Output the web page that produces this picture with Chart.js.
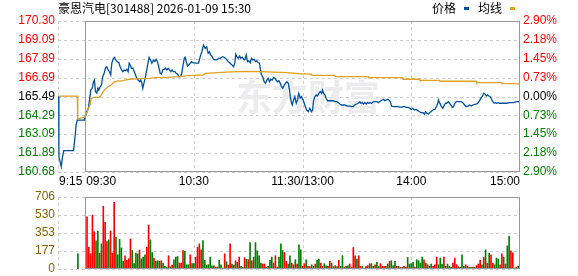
<!DOCTYPE html>
<html lang="zh-CN">
<head>
<meta charset="UTF-8">
<title>豪恩汽电 分时</title>
<script src="https://cdn.jsdelivr.net/npm/chart.js"></script>
<style>
  body { margin: 0; background: #fff; overflow: hidden; }
  #wrap { position: relative; width: 578px; height: 276px; font-family: "Noto Sans CJK SC", sans-serif; color: #000; }
  #title { position: absolute; left: 58px; top: 0; font-size: 12px; line-height: 16px; white-space: nowrap; }
  #legend { position: absolute; left: 432px; top: 0; font-size: 12px; line-height: 16px; white-space: nowrap; }
  .sw { display: inline-block; width: 5px; height: 3px; margin: 0 9px 3px 8px; vertical-align: middle; }
  #price { position: absolute; left: 0; top: 0; }
  #vol { position: absolute; left: 0; top: 183px; }
</style>
</head>
<body>
<div id="wrap">
  <canvas id="price" width="578" height="190"></canvas>
  <canvas id="vol" width="578" height="100"></canvas>
  <div id="title">豪恩汽电[301488] 2026-01-09 15:30</div>
  <div id="legend">价格<span class="sw" style="background:#0050a0"></span>均线<span class="sw" style="background:#e0a020"></span></div>
</div>
<script>
// minutes counted from 9:15 (9:30 = 15, 11:30/13:00 = 135, 15:00 = 255)
const timeMins = [0, 15, 75, 135, 195, 255];
const timeLabels = ['9:15', '09:30', '10:30', '11:30/13:00', '14:00', '15:00'];

const priceLabels = ['170.30', '169.09', '167.89', '166.69', '165.49', '164.29', '163.09', '161.89', '160.68'];
const pctLabels = ['2.90%', '2.18%', '1.45%', '0.73%', '0.00%', '0.73%', '1.45%', '2.18%', '2.90%'];
const volLabels = ['706', '530', '353', '177', '0'];

const priceMin = [0.4, 0.5, 1.8, 2.5, 3.2, 8.6, 9.5, 10.0, 10.6, 14.6, 15.0,
  15.9, 16.8, 17.4, 18.1, 18.9, 19.6, 20.1, 20.7, 21.4, 22.0, 22.5, 23.3, 24.0, 24.7, 25.5, 26.2, 26.9, 27.7, 28.4, 29.1,
  29.7, 30.6, 31.2, 31.9, 32.8, 33.6, 34.3, 35.1, 35.8, 36.5, 37.3, 38.0, 38.7, 39.3, 39.9, 40.6, 41.3, 42.1, 42.8, 43.5,
  44.3, 45.0, 45.7, 46.3, 46.8, 47.4, 48.1, 49.0, 49.8, 50.3, 51.1, 51.8, 52.7, 53.4, 54.2, 54.9, 55.6, 56.4, 57.1, 57.8,
  58.6, 59.3, 60.1, 60.8, 61.5, 62.3, 63.0, 63.8, 64.5, 65.2, 66.0, 66.7, 67.5, 68.2, 68.9, 69.7, 70.2, 70.8, 71.5, 72.2,
  73.0, 73.7, 74.4, 76.3, 77.6, 78.5, 79.4, 80.3, 81.3, 82.1, 82.9, 83.6, 84.3, 85.1, 85.8, 86.6, 87.3, 88.0, 88.8, 89.5,
  90.3, 91.0, 91.7, 92.5, 93.2, 94.0, 94.7, 95.4, 96.2, 96.9, 97.6, 98.1, 98.7, 99.5, 100.2, 100.9, 101.7, 102.4, 103.1, 103.9,
  104.6, 105.3, 106.1, 106.8, 107.5, 108.3, 109.0, 109.7, 110.5, 111.2, 111.8, 112.3, 113.0, 113.8, 114.5, 115.3, 116.0, 116.7, 117.5, 118.2,
  119.0, 119.7, 120.4, 121.2, 121.9, 122.7, 123.4, 124.1, 124.9, 125.6, 126.3, 127.1, 127.8, 128.2, 128.7, 129.3, 130.0, 130.7, 131.5, 132.2,
  132.9, 133.7, 134.4, 135.3, 136.2, 137.2, 138.1, 139.0, 139.9, 140.5, 141.0, 141.8, 142.5, 143.2, 144.0, 144.7, 145.5, 146.0, 146.6, 147.3,
  148.0, 148.8, 150.0, 151.9, 152.8, 153.7, 154.7, 155.6, 156.5, 157.4, 158.3, 159.3, 160.2, 161.1, 162.0, 162.9, 163.8, 164.8, 165.7, 166.6,
  167.1, 167.9, 168.6, 169.4, 170.1, 170.8, 171.6, 172.3, 173.1, 173.8, 174.5, 175.3, 176.0, 176.8, 177.5, 178.2, 179.0, 179.7, 180.4, 181.2,
  181.9, 182.6, 183.4, 184.1, 185.0, 185.9, 187.8, 189.6, 190.5, 191.4, 192.4, 193.3, 194.2, 195.0, 195.8, 196.8, 197.7, 198.6, 199.5, 200.5,
  201.4, 202.3, 202.9, 203.6, 204.4, 205.1, 205.8, 206.6, 207.3, 208.0, 208.8, 209.5, 210.0, 210.6, 211.5, 212.4, 213.2, 213.9, 214.6, 215.4,
  216.1, 216.8, 217.6, 218.3, 219.0, 219.8, 221.6, 222.6, 223.4, 224.4, 225.3, 226.2, 227.1, 228.1, 229.0, 229.9, 230.8, 231.7, 232.7, 233.4,
  234.1, 234.9, 235.6, 236.4, 237.1, 237.8, 238.6, 239.3, 240.0, 240.8, 241.5, 242.2, 243.0, 243.7, 245.6, 247.4, 249.3, 251.2, 253.1, 255.0];
const priceVal = [165.52, 161.65, 161.02, 161.65, 162.04, 162.04, 163.04, 163.67, 163.99, 163.99, 164.20,
  164.52, 164.76, 165.27, 165.90, 166.03, 166.43, 166.54, 165.80, 165.71, 166.03, 165.90, 166.11, 166.22, 166.75, 166.99, 167.31, 167.39, 167.18, 167.07, 166.86,
  167.61, 167.92, 167.99, 167.82, 167.71, 167.64, 167.39, 167.18, 167.07, 167.18, 167.13, 167.22, 167.07, 167.61, 167.50, 167.29, 167.29, 167.07, 166.86, 166.65,
  166.54, 166.43, 166.54, 166.33, 166.01, 166.33, 166.65, 167.18, 167.71, 167.99, 167.82, 167.61, 167.82, 167.71, 167.86, 167.71, 167.39, 166.97, 166.92, 167.18,
  167.22, 167.29, 167.18, 167.29, 167.18, 167.07, 167.18, 167.07, 167.07, 166.97, 166.92, 166.75, 166.75, 166.92, 167.39, 167.92, 167.99, 167.71, 167.43, 167.50,
  167.61, 167.71, 167.64, 167.61, 167.61, 168.03, 168.34, 168.77, 168.56, 168.66, 168.24, 168.34, 168.13, 168.03, 167.86, 167.82, 167.82, 167.86, 167.92, 167.92,
  167.99, 168.03, 167.99, 167.92, 167.82, 167.71, 167.64, 167.56, 167.48, 167.39, 167.61, 168.18, 168.03, 167.92, 168.07, 167.92, 167.99, 167.86, 167.82, 168.13,
  167.71, 167.77, 167.64, 167.92, 167.82, 167.86, 167.71, 167.77, 167.64, 167.61, 167.18, 166.86, 166.75, 166.43, 166.33, 166.54, 166.65, 166.43, 166.59, 166.54,
  166.71, 166.65, 166.54, 166.43, 166.50, 166.33, 166.11, 166.01, 166.22, 166.33, 166.43, 166.33, 165.90, 165.48, 165.16, 164.95, 165.27, 165.48, 165.06, 165.27,
  165.69, 165.38, 165.48, 165.27, 164.95, 164.63, 164.52, 164.74, 164.52, 164.63, 165.16, 165.48, 165.59, 165.52, 165.69, 165.80, 165.69, 165.90, 165.69, 165.59,
  165.38, 165.22, 165.22, 165.22, 165.16, 165.16, 165.10, 165.01, 164.95, 164.95, 164.95, 164.90, 164.88, 164.88, 164.84, 164.84, 164.95, 165.01, 165.06, 165.16,
  165.06, 165.10, 165.01, 165.10, 165.01, 165.10, 165.06, 165.10, 165.06, 165.14, 165.16, 165.16, 165.16, 165.10, 165.16, 165.22, 165.27, 165.31, 165.22, 165.27,
  165.31, 165.27, 165.16, 164.88, 164.84, 164.84, 164.84, 164.80, 164.84, 164.84, 164.80, 164.80, 164.74, 164.67, 164.74, 164.63, 164.67, 164.59, 164.52, 164.46,
  164.46, 164.37, 164.52, 164.42, 164.37, 164.46, 164.52, 164.59, 164.67, 164.67, 164.84, 165.01, 165.27, 165.10, 164.88, 164.74, 164.95, 165.06, 165.06, 165.16,
  165.06, 164.95, 164.80, 164.84, 165.06, 165.16, 165.16, 165.16, 165.10, 164.95, 164.84, 164.88, 164.95, 164.88, 164.95, 164.99, 165.01, 165.06, 165.22, 165.38,
  165.48, 165.69, 165.65, 165.52, 165.59, 165.52, 165.48, 165.31, 165.16, 165.06, 165.10, 165.06, 165.10, 165.06, 165.06, 165.06, 165.10, 165.10, 165.16, 165.16];

const avgMin = [0.4, 10.6, 10.9, 15.0, 16.8, 17.7, 18.4, 19.6, 22.8, 24.0, 24.9, 25.8, 26.7, 27.6, 28.5, 29.4, 30.3, 31.2, 33.1,
  35.8, 36.7, 39.5, 44.9, 50.4, 53.2, 59.6, 67.0, 70.6, 74.8, 80.3, 81.3, 90.5, 98.7, 105.1, 111.6, 122.7, 128.2, 133.7, 139.9,
  140.2, 152.8, 153.1, 171.2, 171.5, 190.2, 190.5, 199.5, 199.8, 210.6, 210.9, 230.8, 231.1, 244.6, 244.9, 254.0, 255];
const avgVal = [165.52, 165.52, 164.05, 164.20, 164.74, 164.95, 165.38, 165.44, 165.44, 165.59, 165.80, 165.90, 166.01, 166.11, 166.17, 166.22, 166.33, 166.43, 166.48,
  166.48, 166.54, 166.59, 166.63, 166.65, 166.69, 166.71, 166.75, 166.80, 166.84, 166.86, 166.97, 167.03, 167.07, 167.09, 167.07, 167.03, 166.99, 166.94, 166.92,
  166.84, 166.84, 166.75, 166.75, 166.69, 166.69, 166.59, 166.59, 166.52, 166.52, 166.46, 166.46, 166.37, 166.37, 166.33, 166.30, 166.27];

// call auction volume (9:25) and one bar per trading minute 9:31 .. 15:00
const auctionMin = 11;
const auctionVol = 149;
const firstVolMin = 16;
const volume = [
  512, 214, 149, 528, 366, 275, 373, 156, 246, 616, 457, 269, 285, 373, 156, 654, 311, 139, 292, 207,
  75, 130, 84, 100, 295, 181, 52, 156, 149, 185, 100, 117, 139, 214, 431, 285, 162, 107, 75, 81,
  75, 81, 58, 26, 16, 130, 23, 39, 91, 117, 123, 58, 58, 181, 172, 42, 42, 139, 52, 52,
  117, 214, 246, 188, 279, 84, 36, 42, 117, 32, 32, 19, 19, 84, 42, 10, 149, 71, 39, 246,
  49, 39, 81, 65, 117, 26, 16, 110, 97, 91, 259, 81, 117, 259, 178, 130, 58, 49, 49, 16,
  26, 84, 117, 58, 130, 19, 117,
  246, 181, 162, 75, 49, 130, 58, 42, 91, 49, 237, 188, 26, 52, 91, 26, 23, 42, 26, 49,
  84, 97, 58, 26, 52, 32, 26, 75, 58, 23, 32, 23, 84, 26, 130, 19, 26, 32, 49, 19,
  211, 130, 97, 130, 26, 26, 3, 26, 32, 52, 52, 26, 42, 65, 26, 52, 26, 23, 26, 49,
  75, 81, 32, 75, 26, 26, 16, 16, 26, 19, 113, 49, 52, 65, 19, 91, 81, 58, 117,
  91, 58, 42, 26, 49, 26, 42, 117, 42, 107, 49, 117, 26, 49, 26, 19, 58, 107, 42, 23,
  19, 139, 26, 42, 26, 16, 16, 19, 16, 32, 49, 84, 42, 113, 188, 58, 156, 139, 58, 42,
  107, 97, 42, 149, 117, 49, 227, 324, 178, 159, 10, 16, 26, 402];
// R = price up in that minute, G = down
const volDir =
  'RRRRRGGRGR' + 'RRGRRRGGGG' + 'GRRRRGGGGR' + 'GGGRRGGRGG' + 'GRGGGRGRGG' + 'GRRRGGGRGG' +
  'RRRRGGGGGG' + 'RRGGGGRGRR' + 'GGRGRGGRGR' + 'GRGGGGGRRR' + 'GGGRRRG' +
  'GGRRGGRRGR' + 'GGRRGRRGGR' + 'GGRRGGRRGG' + 'RGRGGRGGRR' + 'RRGRRGRRGR' + 'GGRGGRRRGG' +
  'RGGGRGRGRR' + 'GGGGRGGGG' + 'RGRGGRRRGG' + 'GRGGGGRRRR' + 'GGGRRGGRGR' + 'RRGRGRGRRG' +
  'GGRRGRGGRR' + 'GRGR';

const BLUE = '#0050a0';
const ORANGE = '#e0a020';
const UP = '#ff0000';
const DOWN = '#008000';
const FLAT = '#000000';

function sideColor(i, n) {
  const mid = (n - 1) / 2;
  return i === mid ? FLAT : (i > mid ? UP : DOWN);
}

// dashed grid + grey frame from 9:30 to 15:00, drawn with the chart's own scales
const frame = {
  id: 'frame',
  beforeDatasetsDraw(chart, args, opts) {
    const { ctx, chartArea: a, scales } = chart;
    const y = scales.y, x = scales.x;
    ctx.save();
    ctx.lineWidth = 1;
    ctx.strokeStyle = '#cfcfcf';
    ctx.setLineDash([3, 3]);
    y.ticks.forEach(t => {
      const py = Math.round(y.getPixelForValue(t.value)) + 0.5;
      ctx.beginPath(); ctx.moveTo(a.left, py); ctx.lineTo(a.right, py); ctx.stroke();
    });
    [0, 75, 135, 195].forEach(m => {
      const px = Math.round(x.getPixelForValue(m)) + 0.5;
      ctx.beginPath(); ctx.moveTo(px, a.top); ctx.lineTo(px, a.bottom); ctx.stroke();
    });
    ctx.setLineDash([]);
    if (opts.watermark) {
      ctx.fillStyle = '#ececef';
      ctx.font = 'bold 36px "Noto Sans CJK SC"';
      ctx.textAlign = 'center';
      ctx.textBaseline = 'middle';
      ctx.fillText('东方财富', 308, 97);
    }
    ctx.restore();
  },
  afterDatasetsDraw(chart) {
    const { ctx, chartArea: a, scales } = chart;
    const left = Math.round(scales.x.getPixelForValue(15)) + 0.5;
    ctx.save();
    ctx.strokeStyle = '#999999';
    ctx.lineWidth = 1;
    ctx.strokeRect(left, a.top + 0.5, a.right - 0.5 - left, a.bottom - a.top - 1);
    ctx.restore();
  },
  afterDraw(chart, args, opts) {
    if (!opts.timeAxis) return;
    const { ctx, chartArea: a, scales } = chart;
    ctx.save();
    ctx.font = '12px "Liberation Sans"';
    ctx.fillStyle = '#000';
    ctx.textBaseline = 'middle';
    timeMins.forEach((m, i) => {
      const px = scales.x.getPixelForValue(m);
      ctx.textAlign = i < 2 ? 'left' : (i === timeMins.length - 1 ? 'right' : 'center');
      ctx.fillText(timeLabels[i], i < 2 ? px + 1 : px, a.bottom + 10);
    });
    ctx.restore();
  }
};

const tickFont = { family: 'Liberation Sans', size: 12 };

new Chart(document.getElementById('price'), {
  type: 'line',
  data: {
    datasets: [
      { label: '均线', data: avgMin.map((m, i) => ({ x: m, y: avgVal[i] })),
        borderColor: ORANGE, borderWidth: 1.3, pointRadius: 0, tension: 0 },
      { label: '价格', data: priceMin.map((m, i) => ({ x: m, y: priceVal[i] })),
        borderColor: BLUE, borderWidth: 1.3, pointRadius: 0, tension: 0 }
    ]
  },
  options: {
    responsive: false,
    animation: false,
    devicePixelRatio: 1,
    layout: { padding: { top: 21, bottom: 18, left: 0, right: 0 } },
    plugins: { legend: { display: false }, tooltip: { enabled: false }, frame: { watermark: true, timeAxis: true } },
    scales: {
      x: { type: 'linear', min: 0, max: 255, display: false },
      y: {
        position: 'left',
        min: parseFloat(priceLabels[8]), max: parseFloat(priceLabels[0]),
        afterFit(s) { s.width = 58; },
        afterBuildTicks(s) { s.ticks = priceLabels.slice().reverse().map(v => ({ value: parseFloat(v) })); },
        grid: { display: false, drawTicks: false }, border: { display: false },
        ticks: { padding: 3, font: tickFont, color: c => sideColor(c.index, 9),
          callback: (v, i) => priceLabels[8 - i] }
      },
      yr: {
        position: 'right',
        min: parseFloat(priceLabels[8]), max: parseFloat(priceLabels[0]),
        afterFit(s) { s.width = 58; },
        afterBuildTicks(s) { s.ticks = priceLabels.slice().reverse().map(v => ({ value: parseFloat(v) })); },
        grid: { display: false, drawTicks: false }, border: { display: false },
        ticks: { padding: 3, font: tickFont, color: c => sideColor(c.index, 9),
          callback: (v, i) => pctLabels[8 - i] }
      }
    }
  },
  plugins: [frame]
});

const volData = [{ x: auctionMin, y: auctionVol }].concat(volume.map((v, k) => ({ x: firstVolMin + k, y: v })));
const volColors = [DOWN].concat(volume.map((v, k) => volDir[k] === 'R' ? UP : DOWN));

new Chart(document.getElementById('vol'), {
  type: 'bar',
  data: {
    datasets: [{ label: '成交量', data: volData, backgroundColor: volColors, borderWidth: 0, barThickness: 1 }]
  },
  options: {
    responsive: false,
    animation: false,
    devicePixelRatio: 1,
    layout: { padding: { top: 14, bottom: 14, left: 0, right: 58 } },
    plugins: { legend: { display: false }, tooltip: { enabled: false }, frame: {} },
    scales: {
      x: { type: 'linear', min: 0, max: 255, display: false, offset: false },
      y: {
        position: 'left', min: 0, max: parseFloat(volLabels[0]),
        afterFit(s) { s.width = 58; },
        afterBuildTicks(s) { s.ticks = volLabels.slice().reverse().map(v => ({ value: parseFloat(v) })); },
        grid: { display: false, drawTicks: false }, border: { display: false },
        ticks: { padding: 3, font: tickFont, color: '#8a6400', callback: (v, i) => volLabels[4 - i] }
      }
    }
  },
  plugins: [frame]
});
</script>
</body>
</html>
